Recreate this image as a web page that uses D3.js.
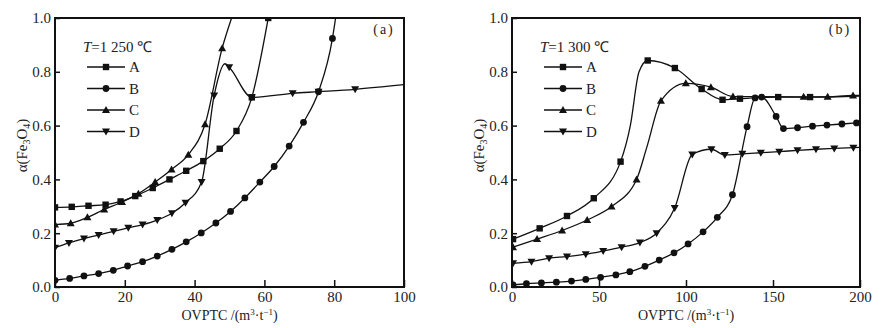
<!DOCTYPE html>
<html>
<head>
<meta charset="utf-8">
<script src="https://cdn.jsdelivr.net/npm/d3@7"></script>
<style>
  body { margin: 0; background: #fff; }
  svg text { font-family: "Liberation Serif", "Times New Roman", serif; fill: #222; }
</style>
</head>
<body>
<svg id="chart" width="889" height="328"></svg>
<script>
// series names and tick values
const seriesNames = ["A", "B", "C", "D"];
const yTicks = [0, 0.2, 0.4, 0.6, 0.8, 1.0];
const xTicksA = [0, 20, 40, 60, 80, 100];
const xTicksB = [0, 50, 100, 150, 200];

// [OVPTC, alpha, marker?]  (third value 0 = curve point without marker)
// panel (a), T = 1 250 C
const a_A = [[0,0.296],[4.8,0.298],[9.6,0.302],[14.5,0.306],[18.8,0.318],[23,0.338],[28,0.368],[32.8,0.40],[37.6,0.432],[42.5,0.468],[47.2,0.514],[52,0.58],[56.4,0.705],[61.1,1.0]];
const a_B = [[0,0.025],[4.2,0.032],[8.3,0.041],[12.5,0.05],[16.7,0.062],[20.8,0.078],[25.1,0.094],[29.3,0.115],[33.5,0.14],[37.6,0.168],[41.9,0.201],[46.1,0.238],[50.3,0.281],[54.4,0.331],[58.7,0.39],[62.8,0.448],[67.1,0.524],[71.2,0.612],[75.5,0.726],[79.5,0.924],[80.4,1.0,0]];
const a_C = [[0,0.232],[4.5,0.237],[9.3,0.259],[14.1,0.288],[19.2,0.316],[23.9,0.347],[28.7,0.39],[33.4,0.437],[38.2,0.492],[43,0.605],[47.9,0.888],[50.6,1.0,0]];
const a_D = [[0,0.146],[4,0.164],[8.3,0.18],[12.5,0.193],[16.8,0.207],[21,0.22],[25.1,0.232],[29.3,0.249],[33.5,0.274],[37.4,0.313],[42,0.39],[45.6,0.712],[48.7,0.83,0],[49.9,0.817],[56.4,0.705],[68.1,0.72],[75.5,0.726],[86,0.735],[100,0.752,0]];

// panel (b), T = 1 300 C
const b_A = [[0.6,0.178],[15.9,0.218],[31.6,0.264],[47,0.33],[62.4,0.466],[68,0.6,0],[73,0.8,0],[78,0.842],[93.6,0.814],[109,0.736],[121,0.696],[131,0.70],[153,0.706],[171.3,0.706],[200,0.71,0]];
const b_B = [[0.6,0.008],[8.3,0.012],[16.9,0.015],[25.5,0.018],[34.2,0.022],[42.4,0.028],[50.9,0.036],[59.7,0.045],[67.7,0.057],[76.4,0.077],[84.6,0.1],[93.1,0.127],[101.2,0.16],[109.8,0.205],[118,0.259],[126.7,0.343],[135.1,0.596],[139.7,0.703],[143.5,0.706],[151.8,0.634],[156,0.589],[164.1,0.592],[172.7,0.598],[181,0.602],[189.6,0.606],[198,0.61],[200,0.611,0]];
const b_C = [[0.6,0.148],[14.4,0.178],[28.8,0.21],[43.2,0.249],[57.2,0.299],[71.6,0.40],[77.5,0.52,0],[85.6,0.692],[99.9,0.757],[114.3,0.743],[127,0.708],[167.6,0.707],[181.4,0.707],[196,0.712],[200,0.712,0]];
const b_D = [[0.6,0.088],[11.2,0.094],[21.3,0.107],[31.6,0.113],[42.4,0.122],[52.4,0.134],[63,0.148],[73.5,0.165],[83.1,0.2],[93.5,0.294],[103.6,0.493],[114.6,0.512],[122.3,0.491],[132.4,0.495],[143,0.499],[153.6,0.503],[164.1,0.508],[174.7,0.512],[185.2,0.515],[196.2,0.518],[200,0.519,0]];

const panels = [
  { id: "a", tag: "(a)", temp: "=1 250 ℃", left: 55, right: 404, xmax: 100, xticks: xTicksA, series: [a_A, a_B, a_C, a_D] },
  { id: "b", tag: "(b)", temp: "=1 300 ℃", left: 512, right: 860, xmax: 200, xticks: xTicksB, series: [b_A, b_B, b_C, b_D] },
];
const plotTop = 18, plotBottom = 287;

const svg = d3.select("#chart");

// marker shapes per series
function marker(g, name, x, y) {
  if (name === "A") {
    g.append("rect").attr("x", x - 3.2).attr("y", y - 3.2).attr("width", 6.4).attr("height", 6.4).attr("fill", "#111");
  } else if (name === "B") {
    g.append("circle").attr("cx", x).attr("cy", y).attr("r", 3.4).attr("fill", "#111");
  } else if (name === "C") {
    g.append("path").attr("d", `M${x},${y - 4}L${x + 4},${y + 3}L${x - 4},${y + 3}Z`).attr("fill", "#111");
  } else {
    g.append("path").attr("d", `M${x},${y + 4}L${x + 4},${y - 3}L${x - 4},${y - 3}Z`).attr("fill", "#111");
  }
}

panels.forEach((p) => {
  const x = d3.scaleLinear([0, p.xmax], [p.left, p.right]);
  const y = d3.scaleLinear([0, 1], [plotBottom, plotTop]);
  const g = svg.append("g");

  g.append("clipPath").attr("id", "clip-" + p.id)
    .append("rect").attr("x", p.left).attr("y", plotTop).attr("width", p.right - p.left).attr("height", plotBottom - plotTop);

  // axes, ticks pointing inward
  const xa = g.append("g").attr("transform", `translate(0,${plotBottom})`)
    .call(d3.axisBottom(x).tickValues(p.xticks).tickSizeInner(-7).tickSizeOuter(0).tickPadding(4).tickFormat(d3.format("d")));
  const ya = g.append("g").attr("transform", `translate(${p.left},0)`)
    .call(d3.axisLeft(y).tickValues(yTicks).tickSizeInner(-5).tickSizeOuter(0).tickPadding(4).tickFormat(d3.format(".1f")));
  [xa, ya].forEach((a) => {
    a.select(".domain").remove();
    a.selectAll("line").attr("stroke", "#111").attr("stroke-width", 1.5);
    a.selectAll("text").style("font-size", "15px").attr("fill", "#222");
  });

  g.append("rect").attr("x", p.left).attr("y", plotTop).attr("width", p.right - p.left).attr("height", plotBottom - plotTop)
    .attr("fill", "none").attr("stroke", "#111").attr("stroke-width", 2);

  // curves
  const line = d3.line().x((d) => x(d[0])).y((d) => y(d[1])).curve(d3.curveMonotoneX);
  const plot = g.append("g").attr("clip-path", `url(#clip-${p.id})`);
  p.series.forEach((s, i) => {
    plot.append("path").attr("d", line(s)).attr("fill", "none").attr("stroke", "#111").attr("stroke-width", 1.3);
    s.filter((d) => d[2] !== 0).forEach((d) => marker(plot, seriesNames[i], x(d[0]), y(d[1])));
  });

  // legend
  const lx = p.left + 32;
  const t = g.append("text").attr("x", lx - 4).attr("y", 52).style("font-size", "15px");
  t.append("tspan").attr("font-style", "italic").text("T");
  t.append("tspan").text(p.temp);
  seriesNames.forEach((n, i) => {
    const ly = 67 + i * 21.5;
    g.append("line").attr("x1", lx).attr("x2", lx + 38).attr("y1", ly).attr("y2", ly).attr("stroke", "#111").attr("stroke-width", 1.3);
    marker(g, n, lx + 19, ly);
    g.append("text").attr("x", lx + 42).attr("y", ly + 5).style("font-size", "15px").text(n);
  });

  g.append("text").attr("x", p.right - 20).attr("y", 34).attr("text-anchor", "middle")
    .style("font-size", "14px").style("letter-spacing", "2px").text(p.tag);

  // axis titles
  const xt = g.append("text").attr("x", (p.left + p.right) / 2).attr("y", 320).attr("text-anchor", "middle").style("font-size", "14px");
  xt.append("tspan").text("OVPTC /(m");
  xt.append("tspan").attr("dy", -5).style("font-size", "9px").text("3");
  xt.append("tspan").attr("dy", 5).text("·t");
  xt.append("tspan").attr("dy", -5).style("font-size", "9px").text("−1");
  xt.append("tspan").attr("dy", 5).text(")");

  const yt = g.append("text").attr("transform", `translate(${p.left - 28},${(plotTop + plotBottom) / 2 - 7}) rotate(-90)`)
    .attr("text-anchor", "middle").style("font-size", "15px");
  yt.append("tspan").text("α(Fe");
  yt.append("tspan").attr("dy", 3).style("font-size", "10px").text("3");
  yt.append("tspan").attr("dy", -3).text("O");
  yt.append("tspan").attr("dy", 3).style("font-size", "10px").text("4");
  yt.append("tspan").attr("dy", -3).text(")");
});
</script>
</body>
</html>
